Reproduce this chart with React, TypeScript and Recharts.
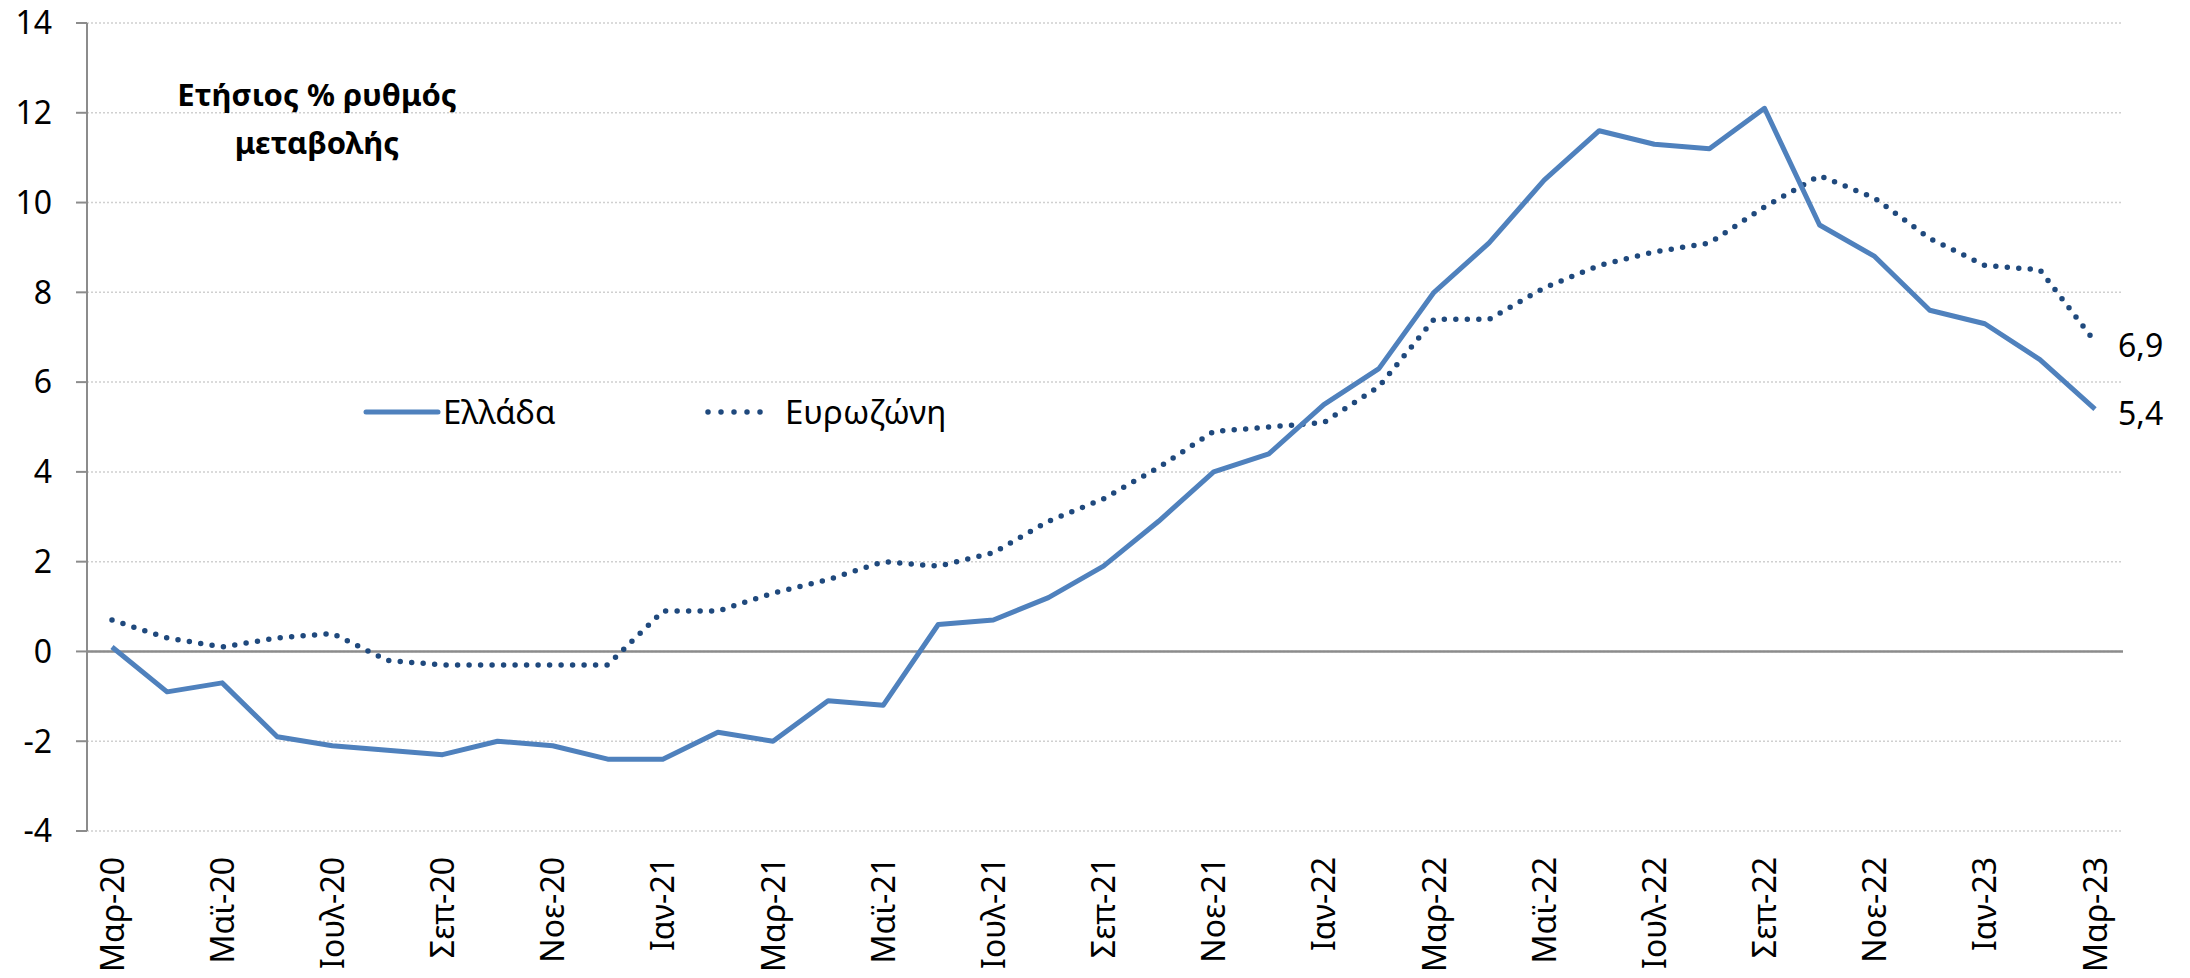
import React from 'react'
import { CartesianGrid, LabelList, Line, LineChart, ReferenceLine, XAxis, YAxis } from 'recharts'

const months = [
    'Μαρ-20', 'Απρ-20', 'Μαϊ-20', 'Ιουν-20', 'Ιουλ-20', 'Αυγ-20', 'Σεπ-20', 'Οκτ-20', 'Νοε-20', 'Δεκ-20',
    'Ιαν-21', 'Φεβ-21', 'Μαρ-21', 'Απρ-21', 'Μαϊ-21', 'Ιουν-21', 'Ιουλ-21', 'Αυγ-21', 'Σεπ-21', 'Οκτ-21',
    'Νοε-21', 'Δεκ-21', 'Ιαν-22', 'Φεβ-22', 'Μαρ-22', 'Απρ-22', 'Μαϊ-22', 'Ιουν-22', 'Ιουλ-22', 'Αυγ-22',
    'Σεπ-22', 'Οκτ-22', 'Νοε-22', 'Δεκ-22', 'Ιαν-23', 'Φεβ-23', 'Μαρ-23'
]

const greece = [
    0.1, -0.9, -0.7, -1.9, -2.1, -2.2, -2.3, -2.0, -2.1, -2.4,
    -2.4, -1.8, -2.0, -1.1, -1.2, 0.6, 0.7, 1.2, 1.9, 2.9,
    4.0, 4.4, 5.5, 6.3, 8.0, 9.1, 10.5, 11.6, 11.3, 11.2,
    12.1, 9.5, 8.8, 7.6, 7.3, 6.5, 5.4
]

const eurozone = [
    0.7, 0.3, 0.1, 0.3, 0.4, -0.2, -0.3, -0.3, -0.3, -0.3,
    0.9, 0.9, 1.3, 1.6, 2.0, 1.9, 2.2, 2.9, 3.4, 4.1,
    4.9, 5.0, 5.1, 5.9, 7.4, 7.4, 8.1, 8.6, 8.9, 9.1,
    9.9, 10.6, 10.1, 9.2, 8.6, 8.5, 6.9
]

const yTicks = [-4, -2, 0, 2, 4, 6, 8, 10, 12, 14]

const seriesNames = ['Ελλάδα', 'Ευρωζώνη']
const titleLines = ['Ετήσιος % ρυθμός', 'μεταβολής']

const data = months.map((m, i) => ({ m, gr: greece[i], ez: eurozone[i] }))

const FONT = '"Noto Sans", sans-serif'
const GR_COLOR = '#4F81BD'
const EZ_COLOR = '#1F497D'

const XTick = (props: any) => {
    const { x, y, payload } = props
    return (
        <g transform={`translate(${x},${y + 26})`}>
            <text
                transform={'rotate(-90)'}
                textAnchor={'end'}
                dy={'0.36em'}
                fontSize={32}
                fontFamily={FONT}
                fill={'#000'}
            >
                {payload.value}
            </text>
        </g>
    )
}

const endLabel = (props: any) => {
    const { x, y, index, value } = props
    if (index !== months.length - 1) return null
    return (
        <text
            x={x + 23}
            y={y + 4}
            dy={'0.36em'}
            fontSize={32}
            fontFamily={FONT}
            fill={'#000'}
        >
            {Number(value).toFixed(1).replace('.', ',')}
        </text>
    )
}

const App: React.FC = () => (
    <div style={{ position: 'absolute', left: 0, top: 0, width: 2190, height: 978, background: '#fff' }}>
        <LineChart
            width={2190}
            height={978}
            data={data}
            margin={{ top: 23, right: 67, bottom: 0, left: 0 }}
        >
            <CartesianGrid
                vertical={false}
                stroke={'#d0d0d0'}
                strokeDasharray={'2 2'}
                strokeWidth={1.5}
            />
            <XAxis
                dataKey={'m'}
                interval={1}
                height={147}
                axisLine={false}
                tickLine={false}
                tickSize={0}
                tickMargin={0}
                padding={{ left: 25, right: 28 }}
                tick={<XTick />}
            />
            <YAxis
                width={87}
                domain={[-4, 14]}
                ticks={yTicks}
                interval={0}
                axisLine={{ stroke: '#8c8c8c', strokeWidth: 2 }}
                tickLine={{ stroke: '#8c8c8c', strokeWidth: 2 }}
                tickSize={11}
                tickMargin={24}
                tick={{ fontSize: 32, fontFamily: FONT, fill: '#000' }}
            />
            <ReferenceLine
                y={0}
                stroke={'#8c8c8c'}
                strokeWidth={2.5}
            />
            <Line
                type={'linear'}
                dataKey={'ez'}
                name={seriesNames[1]}
                stroke={EZ_COLOR}
                strokeWidth={5.5}
                strokeDasharray={'0 11.5'}
                strokeLinecap={'round'}
                dot={false}
                activeDot={false}
                isAnimationActive={false}
            >
                <LabelList dataKey={'ez'} content={endLabel} />
            </Line>
            <Line
                type={'linear'}
                dataKey={'gr'}
                name={seriesNames[0]}
                stroke={GR_COLOR}
                strokeWidth={5}
                strokeLinejoin={'round'}
                dot={false}
                activeDot={false}
                isAnimationActive={false}
            >
                <LabelList dataKey={'gr'} content={endLabel} />
            </Line>
        </LineChart>
        <div
            style={{
                position: 'absolute',
                left: 117,
                top: 70,
                width: 400,
                textAlign: 'center',
                fontFamily: FONT,
                fontWeight: 'bold',
                fontSize: 31,
                lineHeight: '48px',
                color: '#000'
            }}
        >
            {titleLines.map((t) => (
                <div key={t}>{t}</div>
            ))}
        </div>
        <div style={{ position: 'absolute', left: 0, top: 392, width: 1000, height: 40, fontFamily: FONT, fontSize: 33, color: '#000' }}>
            <svg width={80} height={40} style={{ position: 'absolute', left: 362, top: 0 }}>
                <line x1={4} y1={20} x2={76} y2={20} stroke={GR_COLOR} strokeWidth={5} strokeLinecap={'round'} />
            </svg>
            <span style={{ position: 'absolute', left: 443, top: 0, lineHeight: '40px', whiteSpace: 'nowrap' }}>
                {seriesNames[0]}
            </span>
            <svg width={76} height={40} style={{ position: 'absolute', left: 704, top: 0 }}>
                <line x1={4} y1={20} x2={69} y2={20} stroke={EZ_COLOR} strokeWidth={5.5} strokeLinecap={'round'} strokeDasharray={'0 13'} />
            </svg>
            <span style={{ position: 'absolute', left: 785, top: 0, lineHeight: '40px', whiteSpace: 'nowrap' }}>
                {seriesNames[1]}
            </span>
        </div>
    </div>
)

export default App
